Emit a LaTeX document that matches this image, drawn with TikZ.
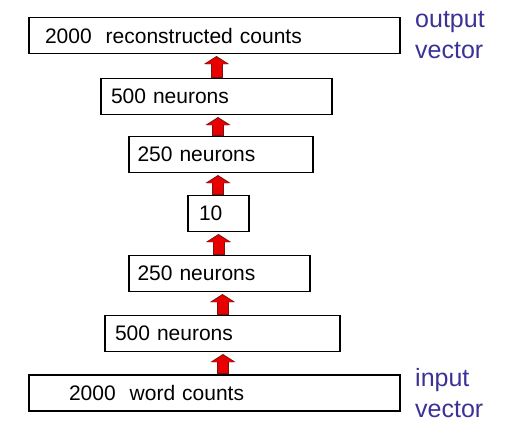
\documentclass[tikz,border=0pt]{standalone}
\usepackage{fontspec}
\setmainfont{Liberation Sans}
\usetikzlibrary{arrows.meta, positioning, calc}
\definecolor{vecblue}{RGB}{58,50,150}
\definecolor{arrred}{RGB}{232,0,0}
\definecolor{arredge}{RGB}{120,20,20}

\begin{document}
\begin{tikzpicture}[x=1pt, y=-1pt,
  layer/.style 2 args={draw, line width=1.6pt, minimum height=36pt, inner ysep=0pt,
                       outer sep=0pt, text width=#1, inner xsep=#2, align=left,
                       font=\fontsize{21}{25}\selectfont},
  lbl/.style={align=left, text=vecblue, inner sep=0pt,
              font=\fontsize{25}{31}\selectfont},
  upout/.style={draw=arredge, line width=12pt,
                -{Triangle[width=25pt, length=8pt, line width=0pt]}, shorten >=2.5pt},
  upin/.style={draw=arrred, line width=10pt,
               -{Triangle[width=21.5pt, length=6.8pt, line width=0pt]}, shorten >=3.7pt},
]
  \useasboundingbox (0,0) rectangle (511,429);

  % layers, bottom to top
  \node[layer={291pt}{40pt}] (in) at (214.5,393) {2000\ \ word counts};
  \node[layer={215pt}{10pt}, above=23.5pt of in, xshift=8pt]      (h500a) {500 neurons};
  \node[layer={164pt}{8.5pt}, above=24pt of h500a, xshift=-3pt]   (h250a) {250 neurons};
  \node[layer={39pt}{11pt}, above=24pt of h250a, xshift=-1pt]     (code)  {10};
  \node[layer={167pt}{8.5pt}, above=23pt of code, xshift=2.5pt]   (h250b) {250 neurons};
  \node[layer={211pt}{10pt}, above=22pt of h250b, xshift=-4.5pt]  (h500b) {500 neurons};
  \node[layer={339pt}{16pt}, above=25pt of h500b, xshift=-2pt]    (out)   {2000\ \ reconstructed counts};

  \node[lbl, anchor=west] (outvec) at ([xshift=15pt]out.east) {output\\vector};
  \node[lbl, anchor=west] (invec)  at ([xshift=15pt]in.east)  {input\\vector};

  % red block arrows
  \foreach \lo/\hi/\dx in {in/h500a/8.5, h500a/h250a/0, h250a/code/-1,
                           code/h250b/-0.5, h250b/h500b/-3, h500b/out/0} {
    \draw[upout] ($(\lo.north)+(\dx pt,0.8pt)$) -- ($(\lo.north |- \hi.south)+(\dx pt,0pt)$);
    \draw[upin]  ($(\lo.north)+(\dx pt,1.6pt)$) -- ($(\lo.north |- \hi.south)+(\dx pt,0pt)$);
  }
\end{tikzpicture}
\end{document}
